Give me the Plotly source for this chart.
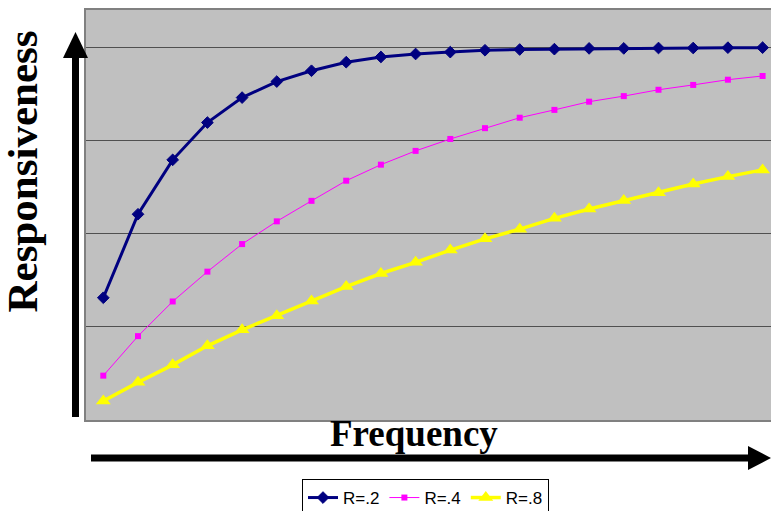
import plotly.graph_objects as go

# Data (20 frequency steps)
steps = list(range(1, 21))
r02 = [0.328, 0.552, 0.698, 0.798, 0.865, 0.908, 0.937, 0.960, 0.974, 0.982,
       0.987, 0.992, 0.994, 0.995, 0.997, 0.997, 0.998, 0.998, 0.999, 0.999]
r04 = [0.119, 0.225, 0.318, 0.398, 0.472, 0.533, 0.588, 0.642, 0.685, 0.722,
       0.754, 0.783, 0.811, 0.832, 0.854, 0.869, 0.886, 0.899, 0.913, 0.923]
r08 = [0.051, 0.101, 0.148, 0.199, 0.242, 0.280, 0.319, 0.358, 0.393, 0.423,
       0.456, 0.486, 0.512, 0.541, 0.566, 0.589, 0.610, 0.633, 0.653, 0.671]
series_names = ["R=.2", "R=.4", "R=.8"]
x_title = "Frequency"
y_title = "Responsiveness"

W, H = 771, 511
L, T, R_, B = 86, 10, 0, 91
PW, PH = W - L - R_, H - T - B


def px(x):
    return (x - L) / PW


def py(y):
    return (H - B - y) / PH


fig = go.Figure()
fig.add_trace(go.Scatter(
    x=steps, y=r02, name=series_names[0], mode="lines+markers",
    line=dict(color="#000080", width=3),
    marker=dict(symbol="diamond", size=9, color="#000080",
                line=dict(color="#000080", width=1))))
fig.add_trace(go.Scatter(
    x=steps, y=r04, name=series_names[1], mode="lines+markers",
    line=dict(color="#FF00FF", width=1),
    marker=dict(symbol="square", size=6, color="#FF00FF")))
fig.add_trace(go.Scatter(
    x=steps, y=r08, name=series_names[2], mode="lines+markers",
    line=dict(color="#FFFF00", width=3.5),
    marker=dict(symbol="triangle-up", size=13, color="#FFFF00")))

shapes = []
# vertical arrow
shapes.append(dict(type="rect", xref="paper", yref="paper",
                   x0=px(72), x1=px(79), y0=py(417), y1=py(57),
                   fillcolor="black", line=dict(width=0), layer="above"))
shapes.append(dict(type="path", xref="paper", yref="paper",
                   path=f"M {px(63)},{py(58)} L {px(75.5)},{py(32)} L {px(88)},{py(58)} Z",
                   fillcolor="black", line=dict(width=0), layer="above"))
# horizontal arrow
shapes.append(dict(type="rect", xref="paper", yref="paper",
                   x0=px(91), x1=px(750), y0=py(461.5), y1=py(454.5),
                   fillcolor="black", line=dict(width=0), layer="above"))
shapes.append(dict(type="path", xref="paper", yref="paper",
                   path=f"M {px(748)},{py(446)} L {px(771)},{py(458)} L {px(748)},{py(470)} Z",
                   fillcolor="black", line=dict(width=0), layer="above"))

annotations = [
    dict(text=f"<b>{x_title}</b>", xref="paper", yref="paper",
         x=px(414), y=py(433), showarrow=False, xanchor="center", yanchor="middle",
         font=dict(family="Liberation Serif", size=37, color="black")),
    dict(text=f"<b>{y_title}</b>", xref="paper", yref="paper",
         x=px(21.5), y=py(172), showarrow=False, xanchor="center", yanchor="middle",
         textangle=-90,
         font=dict(family="Liberation Serif", size=43, color="black")),
]

step_px = 34.7
x0 = 1 - (103.3 - L) / step_px
x1 = 1 + (W - R_ - 103.3) / step_px

fig.update_layout(
    width=W, height=H,
    margin=dict(l=L, r=R_, t=T, b=B, autoexpand=False),
    paper_bgcolor="white", plot_bgcolor="#C0C0C0",
    shapes=shapes, annotations=annotations,
    showlegend=True,
    legend=dict(orientation="h", x=px(302), y=py(479), xanchor="left", yanchor="top",
                bordercolor="black", borderwidth=1, bgcolor="white",
                font=dict(family="Liberation Sans", size=17, color="black"),
                itemwidth=30, tracegroupgap=0),
    xaxis=dict(range=[x0, x1], showgrid=False, zeroline=False, showticklabels=False,
               ticks="", showline=True, linecolor="#808080", linewidth=2, mirror=True),
    yaxis=dict(range=[0, 1.1], dtick=0.25, tick0=0, showgrid=True, gridcolor="#505050",
               gridwidth=1.2, zeroline=False, showticklabels=False, ticks="",
               showline=True, linecolor="#808080", linewidth=2, mirror=True),
)

fig.write_html("out.html")
